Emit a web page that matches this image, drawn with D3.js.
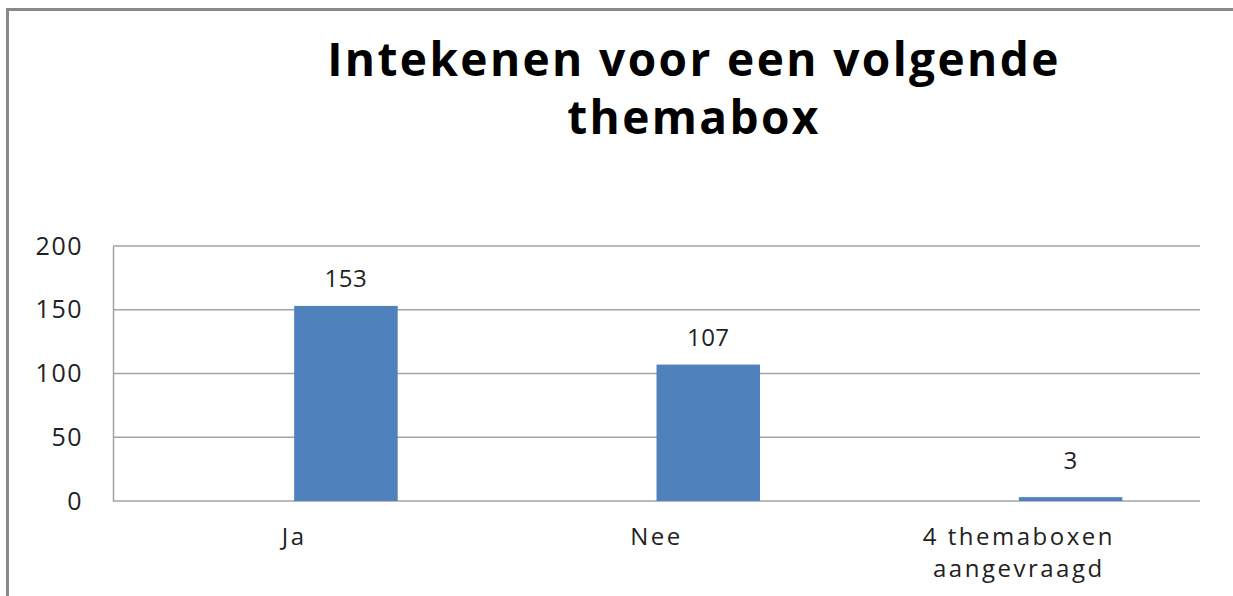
<!DOCTYPE html>
<html>
<head>
<meta charset="utf-8">
<script src="https://cdn.jsdelivr.net/npm/d3@7"></script>
<style>
  body { margin: 0; background: #fff; }
  text { font-family: "Open Sans", sans-serif; fill: #222; }
</style>
</head>
<body>
<script>
// data
var categories = ["Ja", "Nee", "4 themaboxen\naangevraagd"];
var series = ["leeg", "aantal"];     // excel cluster: first slot empty, bar sits in second
var counts = [153, 107, 3];
var yTicks = [0, 50, 100, 150, 200];
var titleLines = ["Intekenen voor een volgende", "themabox"];

var W = 1233, H = 596;
var plot = {left: 113, right: 1200, top: 246, bottom: 501};

var svg = d3.select("body").append("svg")
  .attr("width", W).attr("height", H);

// outer chart frame (right + bottom edges run off the picture)
svg.append("rect")
  .attr("x", 7.5).attr("y", 9.5)
  .attr("width", W + 40).attr("height", H + 40)
  .style("fill", "none").style("stroke", "#898989").style("stroke-width", 3);

// title, one text per line
svg.append("g").selectAll("text").data(titleLines).enter().append("text")
  .attr("x", 694)
  .attr("y", function(d, i){ return 76 + i * 58; })
  .attr("text-anchor", "middle")
  .style("font-size", "46px").style("font-weight", "bold").style("fill", "#000")
  .style("letter-spacing", "2.4px")
  .text(function(d){ return d; });

var x = d3.scaleBand().domain(categories).range([plot.left, plot.right]).padding(0);
// gap width 75% -> cluster = band / 1.75
var clusterW = x.bandwidth() / 1.75;
var xSub = d3.scaleBand().domain(series)
  .range([(x.bandwidth() - clusterW) / 2, (x.bandwidth() + clusterW) / 2]);
var y = d3.scaleLinear().domain([0, 200]).range([plot.bottom, plot.top]);

// gridlines
svg.append("g").selectAll("line").data(yTicks).enter().append("line")
  .attr("x1", plot.left).attr("x2", plot.right)
  .attr("y1", function(d){ return y(d); }).attr("y2", function(d){ return y(d); })
  .style("stroke", "#a3a3a3").style("stroke-width", 1.5);

// y axis
var yAxis = svg.append("g")
  .attr("transform", "translate(" + plot.left + ",0)")
  .call(d3.axisLeft(y).tickValues(yTicks).tickSize(0).tickPadding(30));
yAxis.select(".domain").style("stroke", "#a3a3a3").style("stroke-width", 1.5);
yAxis.selectAll("text")
  .style("font-size", "25px").style("letter-spacing", "1.5px")
  .style("font-family", "'Open Sans', sans-serif").style("fill", "#222");

// bars
svg.append("g").selectAll("rect").data(counts).enter().append("rect")
  .attr("x", function(d, i){ return x(categories[i]) + xSub("aantal"); })
  .attr("y", function(d){ return y(d); })
  .attr("width", xSub.bandwidth())
  .attr("height", function(d){ return y(0) - y(d); })
  .style("fill", "#4f81bd");

// value labels
svg.append("g").selectAll("text").data(counts).enter().append("text")
  .attr("x", function(d, i){ return x(categories[i]) + xSub("aantal") + xSub.bandwidth() / 2; })
  .attr("y", function(d){ return Math.min(y(d) - 19, y(0) - 32); })
  .attr("text-anchor", "middle")
  .style("font-size", "24px").style("letter-spacing", "0.5px")
  .text(function(d){ return d; });

// category labels (multi-line, one text per line)
var catG = svg.append("g");
categories.forEach(function(c){
  var cx = x(c) + x.bandwidth() / 2;
  catG.selectAll(null).data(c.split("\n")).enter().append("text")
    .attr("x", cx)
    .attr("y", function(d, i){ return 545 + i * 32; })
    .attr("text-anchor", "middle")
    .style("font-size", "24px").style("letter-spacing", "2.5px")
    .text(function(d){ return d; });
});
</script>
</body>
</html>
